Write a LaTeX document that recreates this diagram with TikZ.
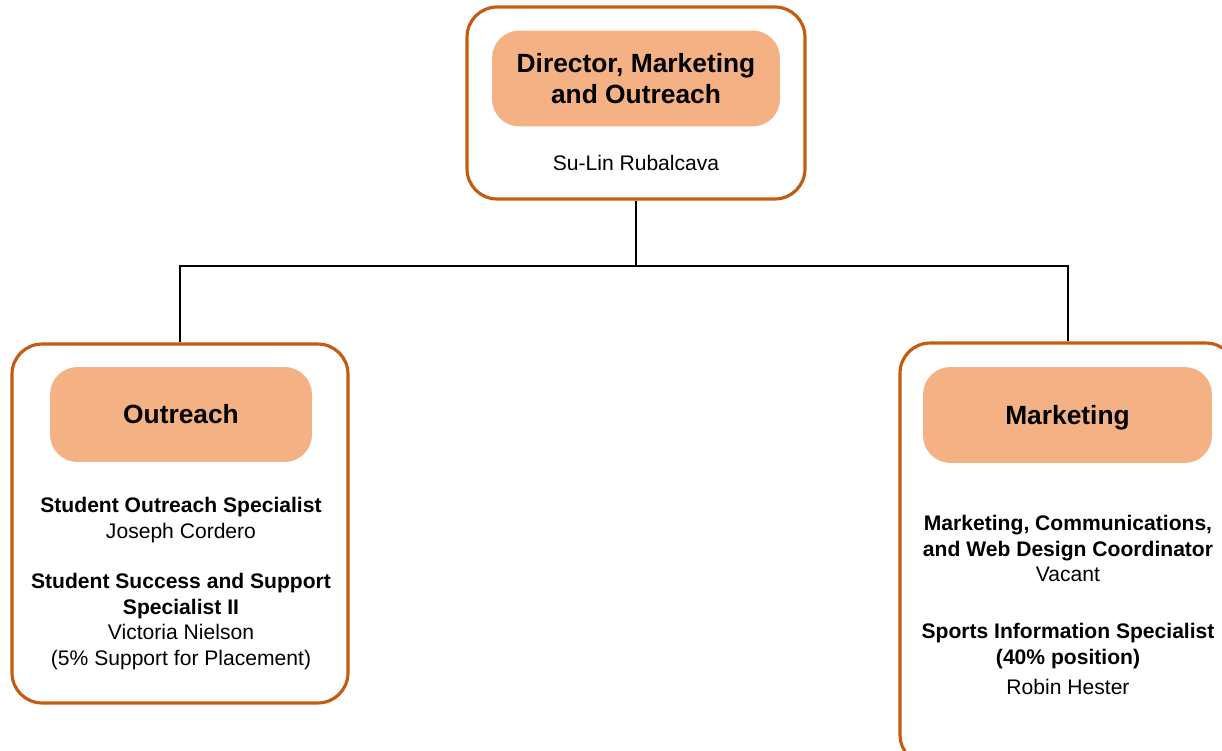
\documentclass[tikz,border=0pt]{standalone}
\usepackage{fontspec}
\setmainfont{Liberation Sans}
\usepackage{tikz}
\usetikzlibrary{positioning}
\definecolor{unitedge}{HTML}{C55A11}
\definecolor{unitfill}{HTML}{F4B183}

\begin{document}
\begin{tikzpicture}[x=0.02cm, y=-0.02cm,
    unit/.style={draw=unitedge, line width=1.8pt, rounded corners=0.6cm, fill=white},
    head/.style={fill=unitfill, rounded corners=0.55cm, align=center,
        font=\fontsize{15}{18}\selectfont\bfseries},
    staff/.style={align=center, font=\fontsize{12}{14.6}\selectfont},
    link/.style={draw=black, line width=1pt}]
    \useasboundingbox (0, 0) rectangle (1222, 750);
    \clip (0, 0) rectangle (1222, 750);

    % director
    \node[unit, minimum width=6.76cm, minimum height=3.84cm] (dirbox) at (636, 103) {};
    \node[head, minimum width=5.76cm, minimum height=1.92cm] (dirhead) at (636, 78.5)
        {Director, Marketing\\and Outreach};
    \node[staff] (dirname) at (636, 163) {Su-Lin Rubalcava};

    % outreach
    \node[unit, minimum width=6.72cm, minimum height=7.18cm] (outbox) at (180, 523.5) {};
    \node[head, minimum width=5.24cm, minimum height=1.9cm] (outhead) at (181, 414.5) {Outreach};
    \node[staff] (outstaff) at (181, 583.5)
        {\textbf{Student Outreach Specialist}\\Joseph Cordero\\[14pt]
         \textbf{Student Success and Support}\\\textbf{Specialist II}\\
         Victoria Nielson\\(5\% Support for Placement)};

    % marketing
    \node[unit, minimum width=6.72cm, minimum height=8.44cm] (mktbox) at (1068, 554) {};
    \node[head, minimum width=5.78cm, minimum height=1.92cm, text depth=0pt] (mkthead) at (1067.5, 415) {Marketing};
    \node[staff] (mktstaff) at (1068, 605)
        {\textbf{Marketing, Communications,}\\\textbf{and Web Design Coordinator}\\Vacant\\[18pt]
         \textbf{Sports Information Specialist}\\\textbf{(40\% position)}\\[2.5pt]
         Robin Hester};

    % connectors
    \coordinate (bus) at (636, 266);
    \draw[link] (dirbox.south) -- (bus);
    \draw[link] (outbox.north) |- (bus) -| (mktbox.north);
\end{tikzpicture}
\end{document}
